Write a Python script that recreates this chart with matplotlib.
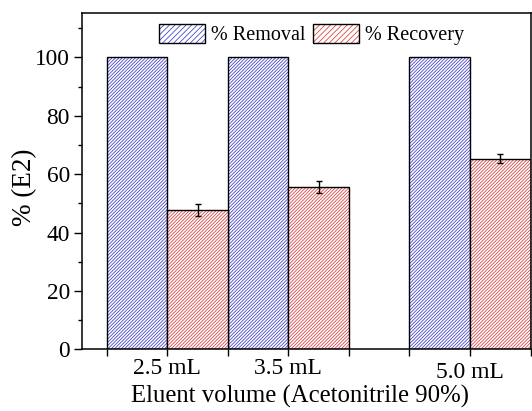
import matplotlib
matplotlib.use('Agg')
import matplotlib.pyplot as plt
import matplotlib.transforms as mtransforms
from matplotlib.patches import Patch
from matplotlib.legend_handler import HandlerTuple
import numpy as np

volumes = [2.5, 3.5, 5.0]
tick_labels = ['2.5 mL', '3.5 mL', '5.0 mL']
removal = [100, 100, 100]
recovery = [47.8, 55.6, 65.3]
recovery_err = [2.1, 1.9, 1.6]
series_names = ['% Removal', '% Recovery']

plt.rcParams['font.family'] = ['Liberation Serif', 'DejaVu Serif']
plt.rcParams['hatch.linewidth'] = 0.55

blue = '#3a3ac8'
red = '#d83a3a'
hatch = '//////////'

fig = plt.figure(figsize=(5.32, 4.11), dpi=100)
ax = fig.add_axes([82 / 532, 1 - 349.4 / 411, (530.5 - 82) / 532, (349.4 - 13.5) / 411])

x = np.array(volumes)
w = 0.5
ax.bar(x - w / 2, removal, w, color='white', edgecolor=blue, hatch=hatch, linewidth=0)
ax.bar(x - w / 2, removal, w, color='none', edgecolor='black', linewidth=1.0)
ax.bar(x + w / 2, recovery, w, color='white', edgecolor=red, hatch=hatch, linewidth=0)
ax.bar(x + w / 2, recovery, w, color='none', edgecolor='black', linewidth=1.0)
ax.errorbar(x + w / 2, recovery, yerr=recovery_err, fmt='none', ecolor='black',
            elinewidth=1.0, capsize=2.5, capthick=1.0)

ax.set_xlim(1.795, 5.5)
ax.set_ylim(0, 115)

xt = np.arange(2.0, 5.51, 0.5)
labels = []
for t in xt:
    lab = ''
    for v, s in zip(volumes, tick_labels):
        if abs(v - t) < 1e-9:
            lab = s
    labels.append(lab)
ax.set_xticks(xt)
ax.set_xticklabels(labels)
ax.set_yticks(np.arange(0, 101, 20))
ax.set_yticks(np.arange(10, 111, 20), minor=True)

ax.tick_params(axis='x', direction='out', length=5, width=1.0, labelsize=17, pad=1)
ax.tick_params(axis='y', which='major', direction='out', length=5.8, width=1.0, labelsize=16.8, pad=3)
ax.tick_params(axis='y', which='minor', direction='out', length=3, width=1.0)
ax.tick_params(top=False, right=False)
for sp in ax.spines.values():
    sp.set_linewidth(1.1)

# the last tick label sits slightly lower in the reference
for lab in ax.get_xticklabels():
    if lab.get_text() == tick_labels[-1]:
        lab.set_transform(lab.get_transform() +
                          mtransforms.ScaledTranslation(0, -4 / 100, fig.dpi_scale_trans))

h_rem = (Patch(facecolor='white', edgecolor=blue, hatch='//////', linewidth=0),
         Patch(facecolor='none', edgecolor='black', linewidth=1.0))
h_rec = (Patch(facecolor='white', edgecolor=red, hatch='//////', linewidth=0),
         Patch(facecolor='none', edgecolor='black', linewidth=1.0))
ax.legend([h_rem, h_rec], series_names, handler_map={tuple: HandlerTuple(ndivide=1)},
          loc='upper center', bbox_to_anchor=(0.512, 1.0), ncol=2, frameon=False,
          fontsize=14.5, handlelength=2.25, handleheight=1.1, handletextpad=0.3,
          columnspacing=0.4, borderaxespad=0.12)

fig.text(300 / 532, 1 - 403 / 411, 'Eluent volume (Acetonitrile 90%)', ha='center',
         va='baseline', fontsize=17.8)
fig.text(25 / 532, 1 - 187.5 / 411, '% (E2)', ha='center', va='center', rotation=90,
         fontsize=19.5)

fig.savefig('out.png', dpi=100)
